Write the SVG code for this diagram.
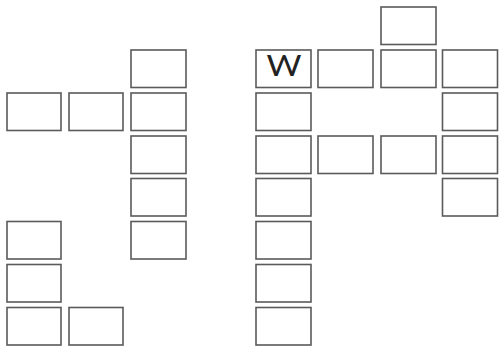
<svg xmlns="http://www.w3.org/2000/svg" width="500" height="348" viewBox="0 0 500 348">
<style>
.b{fill:#fff;stroke:#5a5a5a;stroke-width:1.6}
.t{font-family:"Lato","DejaVu Sans",sans-serif;font-weight:400;font-size:28px;fill:#222}
</style>
<rect width="500" height="348" fill="#fff"/>
<g id="left">
<rect id="a1" class="b" x="131" y="50" width="55" height="37.5"/>
<rect id="a2" class="b" x="131" y="93" width="55" height="37.5"/>
<rect id="a3" class="b" x="131" y="136" width="55" height="37.5"/>
<rect id="a4" class="b" x="131" y="178.5" width="55" height="37.5"/>
<rect id="a5" class="b" x="131" y="221.5" width="55" height="37.5"/>
<rect id="b1" class="b" x="7" y="93" width="54" height="37.5"/>
<rect id="b2" class="b" x="69" y="93" width="54" height="37.5"/>
<rect id="c1" class="b" x="7" y="221.5" width="54" height="37.5"/>
<rect id="c2" class="b" x="7" y="264.5" width="54" height="37.5"/>
<rect id="c3" class="b" x="7" y="307.5" width="54" height="37.5"/>
<rect id="c4" class="b" x="69" y="307.5" width="54" height="37.5"/>
</g>
<g id="right">
<g id="w"><rect class="b" x="256" y="50" width="55" height="37.5"/><text class="t" x="284" y="76" text-anchor="middle" textLength="35" lengthAdjust="spacingAndGlyphs">W</text></g>
<rect id="w2" class="b" x="256" y="93" width="55" height="37.5"/>
<rect id="w3" class="b" x="256" y="136" width="55" height="37.5"/>
<rect id="w4" class="b" x="256" y="178.5" width="55" height="37.5"/>
<rect id="w5" class="b" x="256" y="221.5" width="55" height="37.5"/>
<rect id="w6" class="b" x="256" y="264.5" width="55" height="37.5"/>
<rect id="w7" class="b" x="256" y="307.5" width="55" height="37.5"/>
<rect id="r1" class="b" x="318" y="50" width="55" height="37.5"/>
<rect id="r2" class="b" x="318" y="136" width="55" height="37.5"/>
<rect id="s0" class="b" x="381" y="7" width="55" height="37.5"/>
<rect id="s1" class="b" x="381" y="50" width="55" height="37.5"/>
<rect id="s2" class="b" x="381" y="136" width="55" height="37.5"/>
<rect id="e1" class="b" x="442.5" y="50" width="55" height="37.5"/>
<rect id="e2" class="b" x="442.5" y="93" width="55" height="37.5"/>
<rect id="e3" class="b" x="442.5" y="136" width="55" height="37.5"/>
<rect id="e4" class="b" x="442.5" y="178.5" width="55" height="37.5"/>
</g>
<g id="connectors"/>
</svg>
